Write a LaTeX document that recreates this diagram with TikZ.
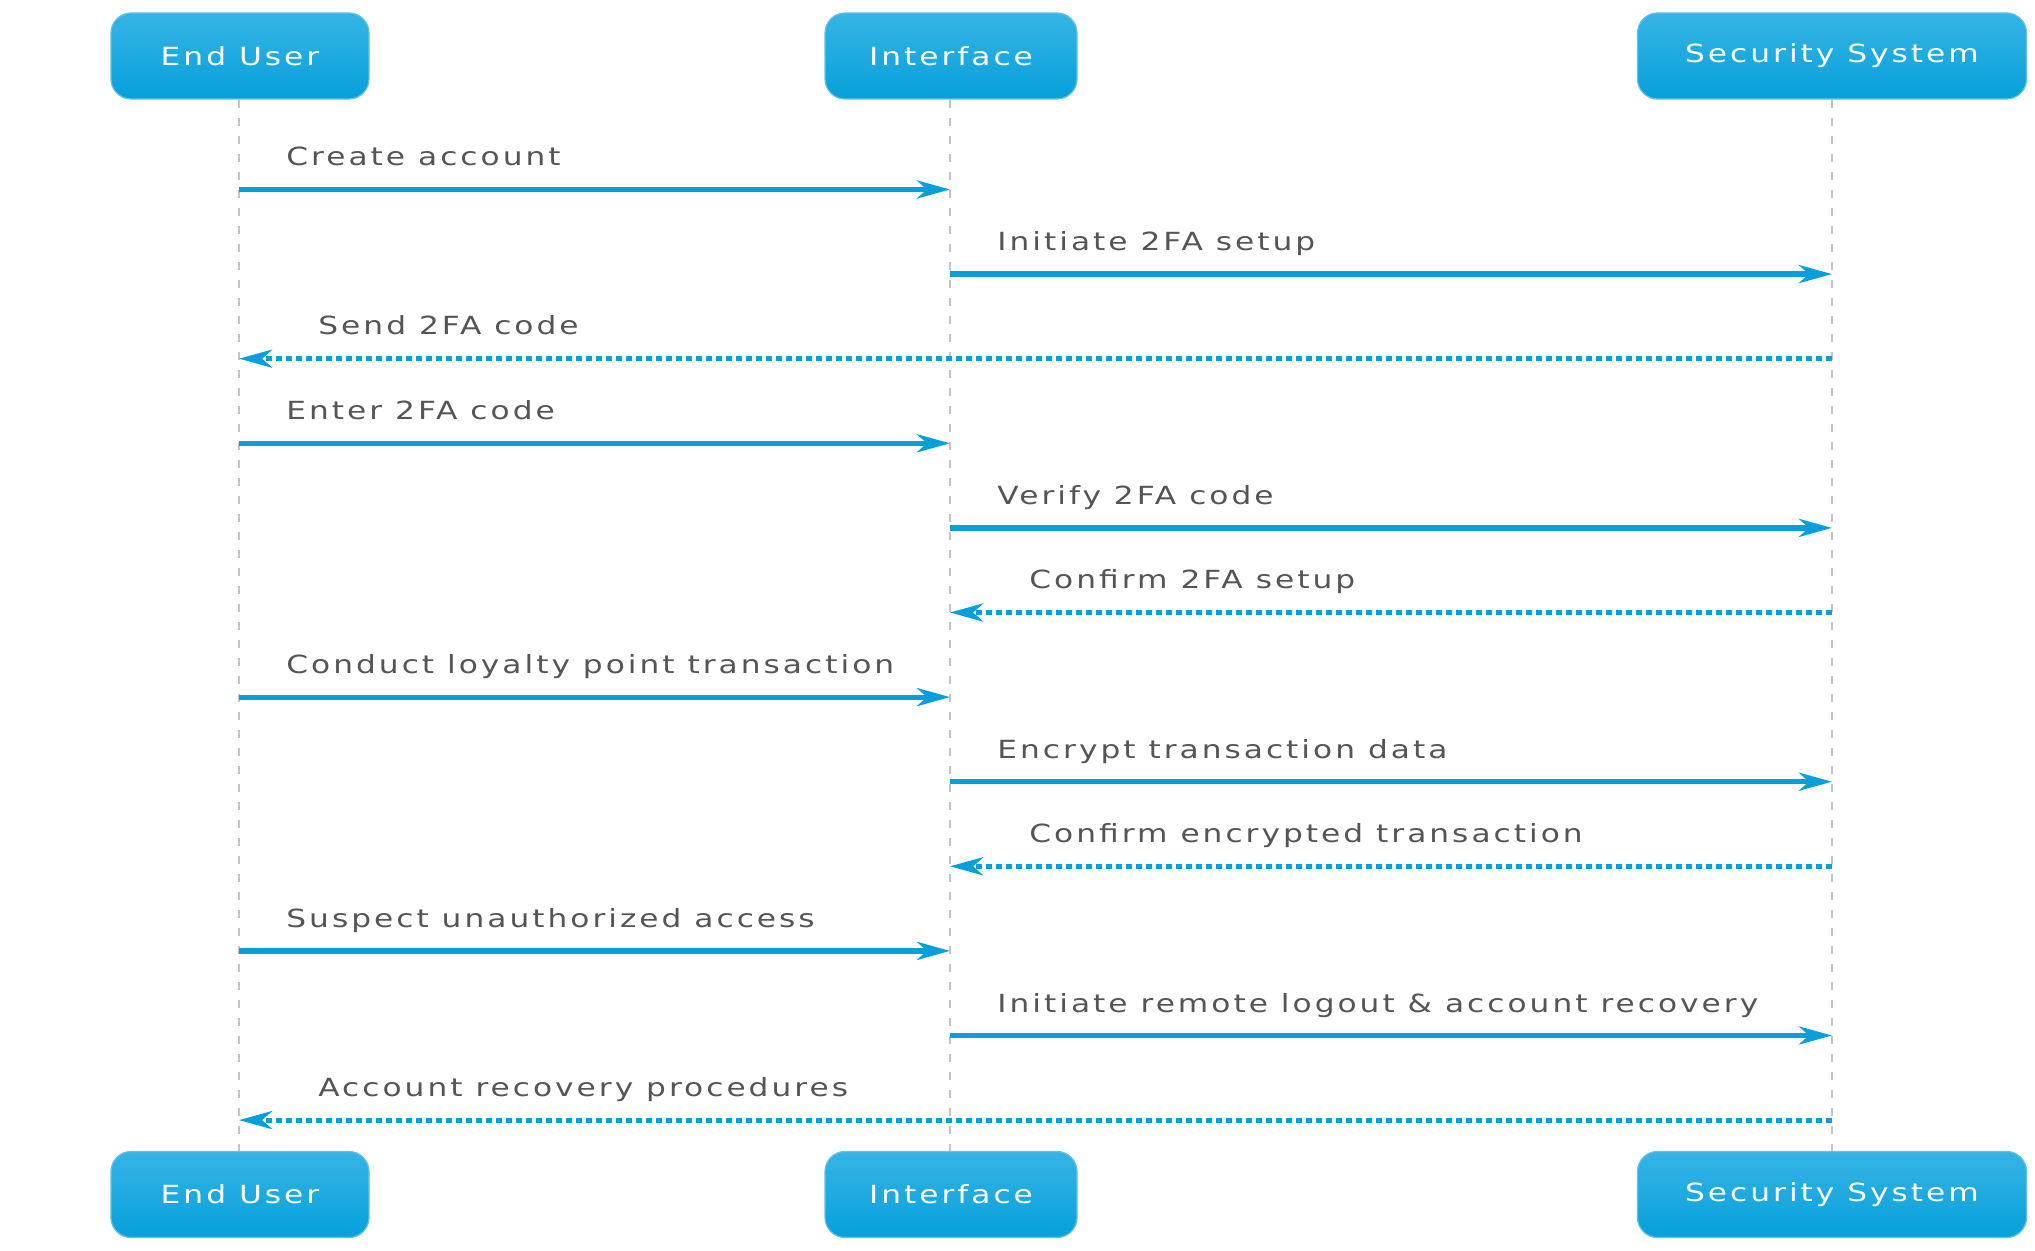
\documentclass[tikz,border=0pt]{standalone}
\usepackage{fontspec}
\setmainfont{DejaVu Sans}[FakeStretch=1.25,LetterSpace=12]
\usetikzlibrary{arrows.meta}
\definecolor{arrowblue}{HTML}{069FDB}
\definecolor{boxtop}{HTML}{36B4E5}
\definecolor{boxbot}{HTML}{06A0DB}
\definecolor{boxline}{HTML}{5EC2EA}
\definecolor{lifegray}{HTML}{C4C4C4}
\definecolor{labelgray}{HTML}{555555}
\tikzset{
  actor/.style={rounded corners=10pt, top color=boxtop, bottom color=boxbot, draw=boxline, line width=0.6pt,
    minimum height=43pt, inner sep=0pt, text=white, font=\fontsize{12.5}{14}\selectfont},
  lifeline/.style={draw=lifegray, line width=1.25pt, dash pattern=on 4pt off 5pt},
  msg/.style={draw=arrowblue, line width=2.6pt, -{Stealth[length=16.5pt,width=9pt,inset=5pt]}},
  ret/.style={msg, dash pattern=on 2.8pt off 2.2pt},
  msglabel/.style={text=labelgray, font=\fontsize{12.5}{14}\selectfont, inner sep=0pt, anchor=base west},
}
\begin{document}
\begin{tikzpicture}[x=0.5pt,y=-0.5pt]
\useasboundingbox (0,0) rectangle (2035,1251);
% actors top
\node[actor, minimum width=129pt] (euT) at (240,56) {End User};
\node[actor, minimum width=126pt] (ifT) at (951,56) {Interface};
\node[actor, minimum width=194.5pt] (ssT) at (1832,56) {Security System};
% actors bottom
\node[actor, minimum width=129pt] (euB) at (240,1194.5) {End User};
\node[actor, minimum width=126pt] (ifB) at (951,1194.5) {Interface};
\node[actor, minimum width=194.5pt] (ssB) at (1832,1194.5) {Security System};
% lifeline anchors
\coordinate (euX) at (239,0);
\coordinate (ifX) at (950,0);
\coordinate (ssX) at (1832,0);
\draw[lifeline] (euX |- euT.south) -- (euX |- euB.north);
\draw[lifeline] (ifX |- ifT.south) -- (ifX |- ifB.north);
\draw[lifeline] (ssX |- ssT.south) -- (ssX |- ssB.north);
% messages
\foreach \i/\y in {1/189.5,2/274.1,3/358.7,4/443.3,5/527.9,6/612.5,7/697.1,8/781.7,9/866.3,10/950.9,11/1035.5,12/1120.1}{
  \coordinate (eu\i) at (239,\y);
  \coordinate (if\i) at (950,\y);
  \coordinate (ss\i) at (1832,\y);
}
\newcommand\fwd[3]{\draw[msg] (#1) -- (#2); \node[msglabel] at ([xshift=23.5pt,yshift=11.75pt]#1) {#3};}
\newcommand\bwd[3]{\draw[ret] (#1) -- (#2); \node[msglabel] at ([xshift=39.5pt,yshift=12pt]#2) {#3};}
\fwd{eu1}{if1}{Create account}
\fwd{if2}{ss2}{Initiate 2FA setup}
\bwd{ss3}{eu3}{Send 2FA code}
\fwd{eu4}{if4}{Enter 2FA code}
\fwd{if5}{ss5}{Verify 2FA code}
\bwd{ss6}{if6}{Confirm 2FA setup}
\fwd{eu7}{if7}{Conduct loyalty point transaction}
\fwd{if8}{ss8}{Encrypt transaction data}
\bwd{ss9}{if9}{Confirm encrypted transaction}
\fwd{eu10}{if10}{Suspect unauthorized access}
\fwd{if11}{ss11}{Initiate remote logout \& account recovery}
\bwd{ss12}{eu12}{Account recovery procedures}
\end{tikzpicture}
\end{document}
